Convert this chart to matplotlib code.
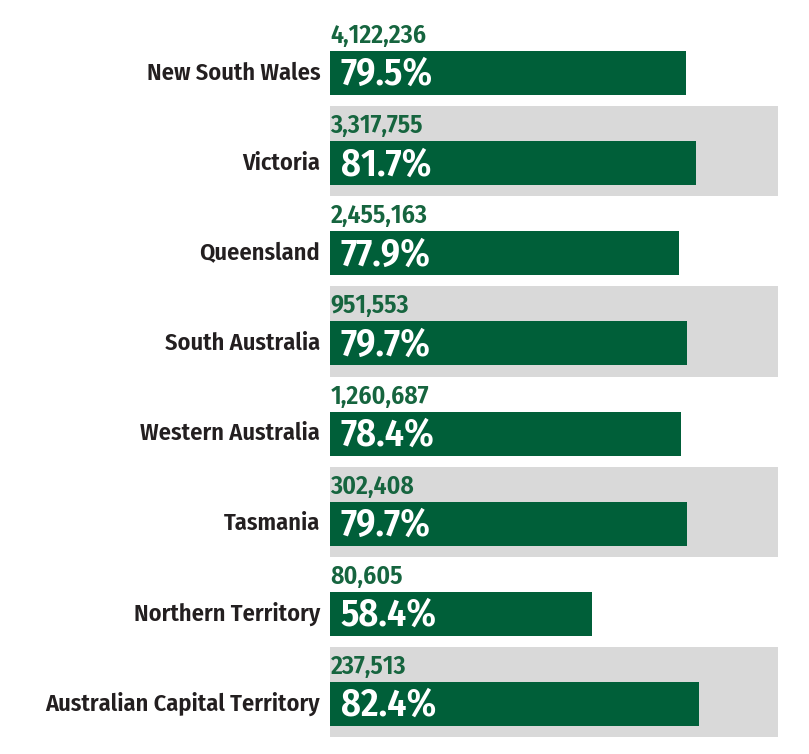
import numpy as np
import matplotlib
matplotlib.use("Agg")
import matplotlib.pyplot as plt

states = ["New South Wales", "Victoria", "Queensland", "South Australia",
          "Western Australia", "Tasmania", "Northern Territory",
          "Australian Capital Territory"]
pct = [79.5, 81.7, 77.9, 79.7, 78.4, 79.7, 58.4, 82.4]
counts = ["4,122,236", "3,317,755", "2,455,163", "951,553",
          "1,260,687", "302,408", "80,605", "237,513"]

green = "#005f39"
label_green = "#16653f"
grey = "#d9d9d9"

# condensed face, close to the original
plt.rcParams["font.family"] = ["Fira Sans Condensed", "Open Sans Condensed", "DejaVu Sans"]

fig = plt.figure(figsize=(8.09, 7.54), dpi=100)
W, H = 809, 754
ax = fig.add_axes([330 / W, (H - 737) / H, (778 - 330) / W, (737 - 16) / H])
ax.set_xlim(0, 100)
ax.set_ylim(len(states), 0)
ax.axis("off")

for i, (s, p, c) in enumerate(zip(states, pct, counts)):
    if i % 2 == 1:
        ax.axhspan(i, i + 1, color=grey, lw=0, zorder=0)
    yc = i + 0.633
    ax.barh(yc, p, height=0.489, left=0, color=green, zorder=2)
    ax.text(0.1, i + 0.22, c, color=label_green, fontsize=18.5, fontweight="semibold",
            ha="left", va="center", zorder=3)
    ax.text(2.4, yc + 0.02, f"{p}%", color="white", fontsize=27.5, fontweight="semibold",
            ha="left", va="center", zorder=3)
    ax.text(-2.2, yc, s, color="#231f20", fontsize=17.5, fontweight="semibold",
            ha="right", va="center", zorder=3)

fig.savefig("out.png", dpi=100)
